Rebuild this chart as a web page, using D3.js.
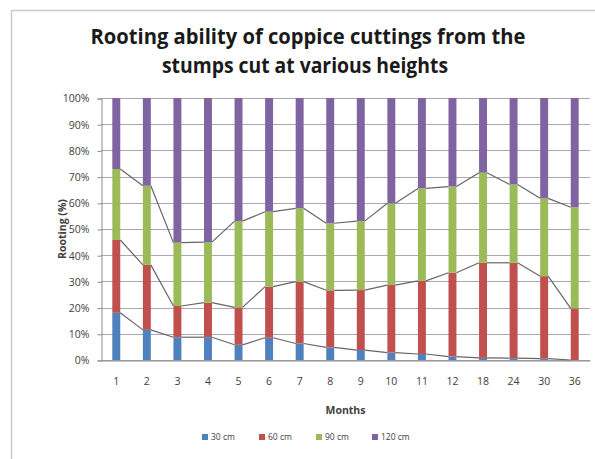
<!DOCTYPE html>
<html>
<head>
<meta charset="utf-8">
<script src="https://cdn.jsdelivr.net/npm/d3@7"></script>
<style>
  body { margin: 0; background: #fff; }
  svg { display: block; }
  text { font-family: "Open Sans", "Liberation Sans", sans-serif; }
</style>
</head>
<body>
<svg id="chart" width="595" height="459"></svg>
<script>
// Months after cutting
const months = ["1", "2", "3", "4", "5", "6", "7", "8", "9", "10", "11", "12", "18", "24", "30", "36"];

// Rooting share (%) by stump cutting height
const seriesNames = ["30 cm", "60 cm", "90 cm", "120 cm"];
const seriesColors = ["#4F81BD", "#C0504D", "#9BBB59", "#8064A2"];
const cm30  = [18.0, 11.5, 8.7, 8.7, 5.8, 8.5, 6.3, 4.8, 3.8, 2.8, 2.3, 1.3, 0.8, 0.7, 0.5, 0.0];
const cm60  = [27.8, 24.8, 11.9, 13.2, 14.3, 19.5, 23.6, 21.8, 22.9, 25.8, 27.9, 32.0, 36.3, 36.4, 31.5, 19.7];
const cm90  = [27.1, 30.2, 24.2, 23.1, 32.9, 28.6, 28.0, 25.6, 26.3, 31.2, 35.3, 32.9, 34.4, 29.9, 29.7, 38.6];
const cm120 = [27.1, 33.5, 55.2, 55.0, 47.0, 43.4, 42.1, 47.8, 47.0, 40.2, 34.5, 33.8, 28.5, 33.0, 38.3, 41.7];

const yTicks = [0, 0.1, 0.2, 0.3, 0.4, 0.5, 0.6, 0.7, 0.8, 0.9, 1.0];

const titleLines = ["Rooting ability of coppice cuttings from the", "stumps cut at various heights"];
const xTitle = "Months";
const yTitle = "Rooting (%)";

const svg = d3.select("#chart");

// chart frame
svg.append("rect")
  .attr("x", 11.5).attr("y", 10.5)
  .attr("width", 620).attr("height", 470)
  .attr("fill", "#fff")
  .attr("stroke", "#c9c9c9").attr("stroke-width", 1.5);

const plot = { left: 101, right: 590, top: 98, bottom: 360 };

const rows = months.map((m, i) => ({
  month: m,
  "30 cm": cm30[i], "60 cm": cm60[i], "90 cm": cm90[i], "120 cm": cm120[i]
}));

const stacked = d3.stack()
  .keys(seriesNames)
  .offset(d3.stackOffsetExpand)(rows);

const x = d3.scaleBand()
  .domain(months)
  .range([plot.left, plot.right])
  .paddingInner(0.74)
  .paddingOuter(0.37);

const y = d3.scaleLinear()
  .domain([0, 1])
  .range([plot.bottom, plot.top]);

// horizontal gridlines
svg.append("g")
  .selectAll("line")
  .data(yTicks)
  .join("line")
  .attr("x1", plot.left).attr("x2", plot.right)
  .attr("y1", d => Math.round(y(d)) + 0.5)
  .attr("y2", d => Math.round(y(d)) + 0.5)
  .attr("stroke", "#aaa6b4")
  .attr("stroke-width", 1);

// y axis
const yAxis = d3.axisLeft(y)
  .tickValues(yTicks)
  .tickFormat(d3.format(".0%"))
  .tickSize(4)
  .tickPadding(8);

const yg = svg.append("g")
  .attr("transform", `translate(${plot.left + 0.5},0.5)`)
  .call(yAxis);
yg.select(".domain").attr("stroke", "#8c8c8c");
yg.selectAll(".tick line").attr("stroke", "#8c8c8c");
yg.selectAll(".tick text")
  .attr("fill", "#404040")
  .style("font-size", "10.5px")
  .style("font-family", "'Open Sans', sans-serif");

// stacked bars
const bw = x.bandwidth();
svg.append("g")
  .selectAll("g")
  .data(stacked)
  .join("g")
  .attr("fill", (d, i) => seriesColors[i])
  .selectAll("rect")
  .data(d => d)
  .join("rect")
  .attr("x", d => x(d.data.month))
  .attr("y", d => y(d[1]))
  .attr("width", bw)
  .attr("height", d => y(d[0]) - y(d[1]));

// series lines joining the top of each segment between neighbouring bars
const linesG = svg.append("g")
  .attr("fill", "none")
  .attr("stroke", "#666")
  .attr("stroke-width", 1.2);
stacked.slice(0, 3).forEach(s => {
  for (let i = 0; i < s.length - 1; i++) {
    const a = s[i], b = s[i + 1];
    linesG.append("line")
      .attr("x1", x(a.data.month) + bw).attr("y1", y(a[1]))
      .attr("x2", x(b.data.month)).attr("y2", y(b[1]));
  }
});

// x axis
const xAxis = d3.axisBottom(x).tickSize(0).tickPadding(17);
const xg = svg.append("g")
  .attr("transform", `translate(0,${plot.bottom + 0.5})`)
  .call(xAxis);
xg.select(".domain").attr("stroke", "#8c8c8c");
xg.selectAll(".tick text")
  .attr("fill", "#404040")
  .style("font-size", "10.5px")
  .style("font-family", "'Open Sans', sans-serif");

// title
svg.append("g")
  .selectAll("text")
  .data(titleLines)
  .join("text")
  .attr("x", (d, i) => i === 0 ? 308 : 305)
  .attr("y", (d, i) => 44 + i * 29)
  .attr("text-anchor", "middle")
  .attr("fill", "#1a1a1a")
  .style("font-size", "22px")
  .style("font-weight", "bold")
  .style("font-family", "'Open Sans', sans-serif")
  .attr("textLength", (d, i) => i === 0 ? 435 : 286)
  .attr("lengthAdjust", "spacingAndGlyphs")
  .text(d => d);

// axis titles
svg.append("text")
  .attr("x", (plot.left + plot.right) / 2)
  .attr("y", 414)
  .attr("text-anchor", "middle")
  .attr("fill", "#404040")
  .style("font-size", "10.5px")
  .style("font-weight", "bold")
  .text(xTitle);

svg.append("text")
  .attr("transform", `translate(66,${(plot.top + plot.bottom) / 2}) rotate(-90)`)
  .attr("text-anchor", "middle")
  .attr("fill", "#404040")
  .style("font-size", "10.5px")
  .style("font-weight", "bold")
  .text(yTitle);

// legend
const legendX = [202, 259, 316, 372];
const legend = svg.append("g")
  .selectAll("g")
  .data(seriesNames)
  .join("g")
  .attr("transform", (d, i) => `translate(${legendX[i]},437)`);
legend.append("rect")
  .attr("x", 0).attr("y", -3)
  .attr("width", 6).attr("height", 6)
  .attr("fill", (d, i) => seriesColors[i]);
legend.append("text")
  .attr("x", 9).attr("y", 3)
  .attr("fill", "#404040")
  .style("font-size", "8.5px")
  .text(d => d);
</script>
</body>
</html>
